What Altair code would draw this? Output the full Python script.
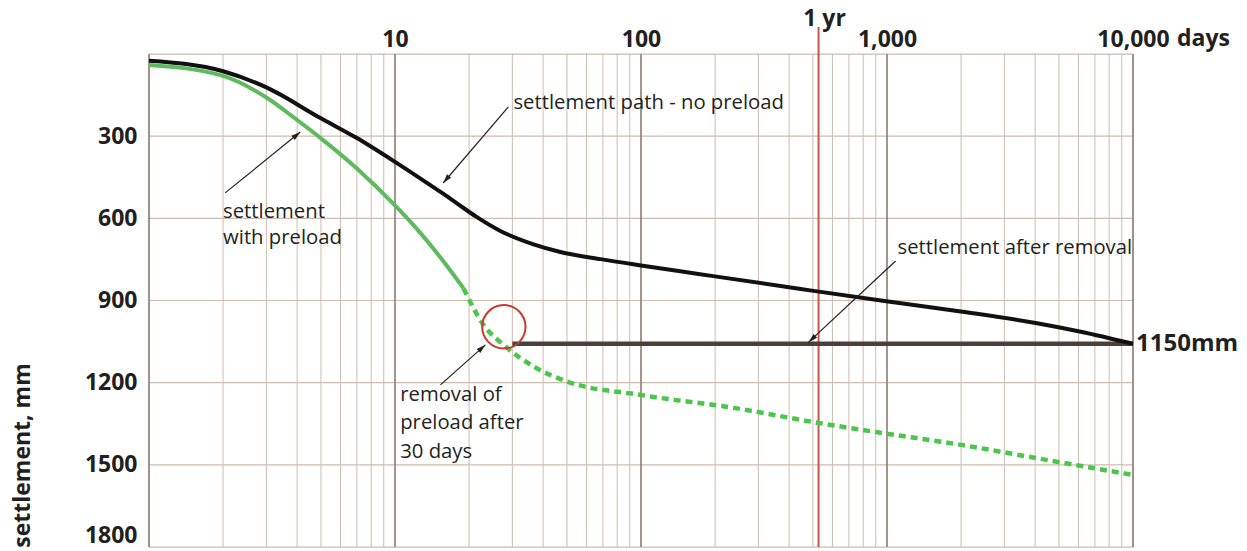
import altair as alt
import pandas as pd

# ---- data ----
days_no_preload = [1, 2, 3, 5, 7, 10, 12.7, 15.75, 18.1, 21.3, 26.8, 36.6, 47, 68.5, 100, 171, 446, 977, 2028, 4020, 6138, 10000]
settle_no_preload = [25, 63, 122, 235, 307, 394, 455, 511, 549, 593, 646, 695, 723, 749, 772, 803, 858, 902, 941, 982, 1014, 1058]

days_preload = [1, 2, 3, 4, 5, 7, 10, 12.7, 16.3, 19]
settle_preload = [40, 80, 159, 241, 308, 418, 553, 654, 775, 856]

days_after = [19, 22.9, 27.6, 36.6, 50.2, 100, 238, 527, 977, 2028, 4020, 10000]
settle_after = [856, 989, 1062, 1141, 1196, 1245, 1292, 1347, 1385, 1428, 1475, 1537]

removal_days = [30, 10000]
removal_settle = [1058, 1058]

one_year_mark = [527]
circle_day = [27.7]
circle_settle = [996]

x_tick_values = [10, 100, 1000, 10000]
y_tick_values = [300, 600, 900, 1200, 1500, 1800]
decades = [1, 10, 100, 1000, 10000]
minor_days = [m * d for d in [1, 10, 100, 1000] for m in range(2, 10)]
h_grid = [0, 300, 600, 900, 1200, 1500, 1800]

ann_text = ["settlement path - no preload", "settlement", "with preload",
            "removal of", "preload after", "30 days", "settlement after removal"]
ann_day = [30.3, 2.0, 2.0, 10.5, 10.5, 10.5, 1104]
ann_settle = [179, 576, 672, 1245, 1347, 1453, 708]

arrow_from_day = [28.9, 2.04, 15.3, 1084]
arrow_from_settle = [193, 507, 1208, 756]
arrow_to_day = [15.7, 4.12, 23.3, 480]
arrow_to_settle = [471, 285, 1062, 1052]
arrow_angle = [220, 51, 48, 227]

# ---- styling ----
FONT = "Open Sans"
INK = "#231F20"
W, H = 984, 493

xscale = alt.Scale(type="log", domain=[1, 10000], nice=False)
yscale = alt.Scale(domain=[0, 1800], reverse=True, nice=False, zero=False)

x_axis = alt.Axis(orient="top", values=x_tick_values, labelExpr="format(datum.value, ',')",
                  labelFont=FONT, labelFontWeight="bold", labelFontSize=23, labelColor=INK,
                  ticks=False, domain=False, grid=False, labelPadding=8,
                  labelBaseline="alphabetic", labelFlush=False, labelOverlap=False, title=None)
y_axis = alt.Axis(values=y_tick_values, format="d", labelFont=FONT, labelFontWeight="bold",
                  labelFontSize=23, labelColor=INK, ticks=False, domain=False, grid=False,
                  labelPadding=12, labelFlush=True, labelOverlap=False,
                  title="settlement, mm", titleFont=FONT, titleFontWeight="bold", titleFontSize=23,
                  titleColor=INK, titleX=-127, titleY=401, titleAngle=270, titleAlign="center",
                  titleBaseline="middle")


def X(field="d"):
    return alt.X(f"{field}:Q", scale=xscale, axis=x_axis)


def Y(field="s"):
    return alt.Y(f"{field}:Q", scale=yscale, axis=y_axis)


minor_df = pd.DataFrame({"d": minor_days})
decade_df = pd.DataFrame({"d": decades})
hgrid_df = pd.DataFrame({"s": h_grid})

minor_grid = alt.Chart(minor_df).mark_rule(color="#CDBCAF", strokeWidth=1).encode(x=X())
decade_grid = alt.Chart(decade_df).mark_rule(color="#8E7B6F", strokeWidth=1.6).encode(x=X())
h_grid_rules = alt.Chart(hgrid_df).mark_rule(color="#CDBCAF", strokeWidth=1.2).encode(y=Y())

year_df = pd.DataFrame({"d": one_year_mark, "label": ["1 yr"]})
year_rule = alt.Chart(year_df).mark_rule(color="#C9564B", strokeWidth=2).encode(
    x=X(), y=alt.value(-27), y2=alt.value(H))
year_text = alt.Chart(year_df).mark_text(font=FONT, fontWeight="bold", fontSize=23, color=INK,
                                         align="center", baseline="alphabetic", dx=6).encode(
    x=X(), y=alt.value(-28), text="label:N")

np_df = pd.DataFrame({"d": days_no_preload, "s": settle_no_preload})
line_np = alt.Chart(np_df).mark_line(color="#111111", strokeWidth=4, interpolate="monotone").encode(
    x=X(), y=Y())

p_df = pd.DataFrame({"d": days_preload, "s": settle_preload})
line_p = alt.Chart(p_df).mark_line(color="#5DBA5D", strokeWidth=4, interpolate="monotone").encode(
    x=X(), y=Y())

a_df = pd.DataFrame({"d": days_after, "s": settle_after})
line_a = alt.Chart(a_df).mark_line(color="#4CC54C", strokeWidth=4.5, strokeDash=[7, 5],
                                   interpolate="monotone").encode(x=X(), y=Y())

r_df = pd.DataFrame({"d": removal_days, "s": removal_settle})
line_r = alt.Chart(r_df).mark_line(color="#4A3F3A", strokeWidth=4.5).encode(x=X(), y=Y())

end_df = pd.DataFrame({"d": [removal_days[-1]], "s": [removal_settle[-1]], "label": ["1150mm"]})
end_text = alt.Chart(end_df).mark_text(font=FONT, fontWeight="bold", fontSize=24, color=INK,
                                       align="left", baseline="middle", dx=3).encode(
    x=X(), y=Y(), text="label:N")

days_df = pd.DataFrame({"d": [x_tick_values[-1]], "label": ["days"]})
days_text = alt.Chart(days_df).mark_text(font=FONT, fontWeight="bold", fontSize=23, color=INK,
                                         align="left", baseline="alphabetic", dx=44).encode(
    x=X(), y=alt.value(-8), text="label:N")

circ_df = pd.DataFrame({"d": circle_day, "s": circle_settle})
circle = alt.Chart(circ_df).mark_point(shape="circle", size=1880, filled=False, color="#C63A2E",
                                       strokeWidth=2, opacity=1).encode(x=X(), y=Y())

ann_df = pd.DataFrame({"d": ann_day, "s": ann_settle, "t": ann_text})
ann = alt.Chart(ann_df).mark_text(font=FONT, fontSize=20.3, color=INK, align="left",
                                  baseline="middle").encode(x=X(), y=Y(), text="t:N")

arr_df = pd.DataFrame({"d": arrow_from_day, "s": arrow_from_settle,
                       "d2": arrow_to_day, "s2": arrow_to_settle, "ang": arrow_angle})
arrow_lines = alt.Chart(arr_df).mark_rule(color=INK, strokeWidth=1.2).encode(
    x=X(), y=Y(), x2="d2:Q", y2="s2:Q")
arrow_heads = alt.Chart(arr_df).mark_point(
    shape="M0,0 L0.38,1.3 L-0.38,1.3 Z", filled=True, size=200, color=INK, opacity=1).encode(
    x=alt.X("d2:Q", scale=xscale, axis=x_axis), y=alt.Y("s2:Q", scale=yscale, axis=y_axis),
    angle=alt.Angle("ang:Q", scale=None))

chart = alt.layer(
    minor_grid, h_grid_rules, decade_grid, year_rule, year_text,
    line_r, line_np, line_p, line_a, circle, end_text, days_text,
    arrow_lines, arrow_heads, ann
).properties(
    width=W, height=H,
    autosize=alt.AutoSizeParams(type="none"),
    padding={"left": 141, "top": 46, "right": 106, "bottom": 12},
).configure_view(fill="#ECEAE5", stroke=None).configure(background="white")

chart.save("out.html", embed_options={"renderer": "svg", "actions": False})
